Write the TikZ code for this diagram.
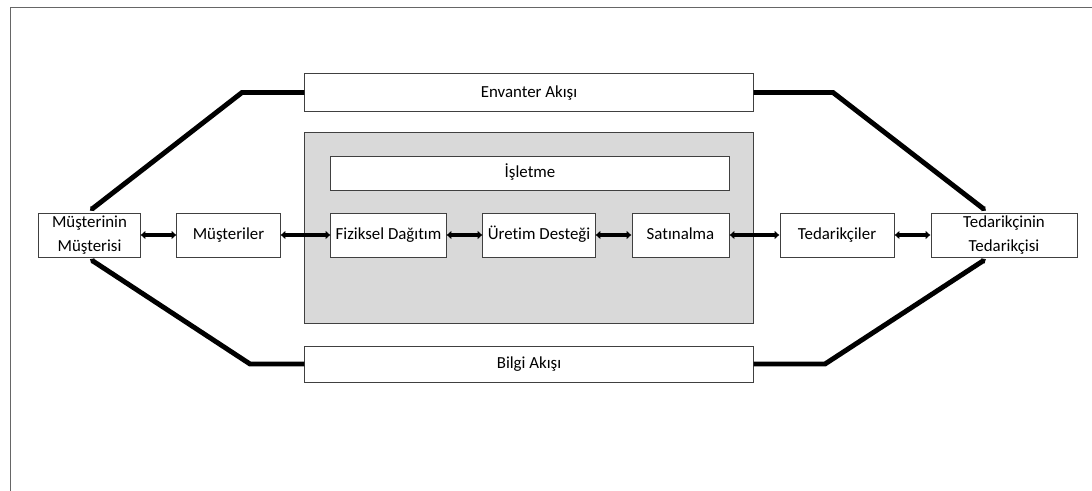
\documentclass[tikz,border=0pt]{standalone}
\usepackage{fontspec}
\setmainfont{Carlito}[Ligatures=NoCommon]
\usepackage{tikz}
\usetikzlibrary{arrows.meta}

\begin{document}
\begin{tikzpicture}[x=0.025cm, y=-0.025cm,
	box/.style={draw=black!75, line width=0.7pt, fill=white, inner sep=0pt, align=center,
		font=\fontsize{12}{17}\selectfont},
	onebox/.style={box, execute at begin node=\strut},
	link/.style={line width=3.5pt, {Latex[length=3.5pt,width=6.5pt]}-{Latex[length=3.5pt,width=6.5pt]}},
	flow/.style={line width=3.5pt, -{Latex[length=2.5pt,width=5pt]}, shorten >=2pt}]
	\useasboundingbox (0,0) rectangle (1092,491);
	% frame
	\draw [black!60, line width=1pt] (10.5,491) -- (10.5,7.5) -- (1092,7.5);
	% firm block
	\node [draw=black!75, line width=0.7pt, fill=black!15, minimum width=11.2cm, minimum height=4.75cm] (firm) at (529,228) {};
	\node [onebox, minimum width=9.95cm, minimum height=0.85cm] (isl) at (530,173) {İşletme};
	% flows
	\node [onebox, minimum width=11.2cm, minimum height=0.925cm] (env) at (529,92.5) {Envanter Akışı};
	\node [onebox, minimum width=11.2cm, minimum height=0.9cm] (bilgi) at (529,364) {Bilgi Akışı};
	% chain
	\node [box, minimum width=2.525cm, minimum height=1.1cm] (mm) at (89.5,235) {Müşterinin\\Müşterisi};
	\node [onebox, minimum width=2.575cm, minimum height=1.1cm] (mus) at (228.5,235) {Müşteriler};
	\node [onebox, minimum width=2.875cm, minimum height=1.1cm] (fd) at (388.5,235) {Fiziksel Dağıtım};
	\node [onebox, minimum width=2.8cm, minimum height=1.1cm] (ud) at (539,235) {Üretim Desteği};
	\node [onebox, minimum width=2.425cm, minimum height=1.1cm] (sat) at (680.5,235) {Satınalma};
	\node [onebox, minimum width=2.85cm, minimum height=1.1cm] (ted) at (837,235) {Tedarikçiler};
	\node [box, minimum width=3.65cm, minimum height=1.1cm] (tt) at (1004,235) {Tedarikçinin\\Tedarikçisi};
	\draw [link] (mm) -- (mus);
	\draw [link] (mus) -- (fd);
	\draw [link] (fd) -- (ud);
	\draw [link] (ud) -- (sat);
	\draw [link] (sat) -- (ted);
	\draw [link] (ted) -- (tt);
	% corners
	\coordinate (envl) at (242,92.5);
	\coordinate (envr) at (833,92.5);
	\coordinate (bilgil) at (250,364);
	\coordinate (bilgir) at (825,364);
	\draw [flow] (env.west) -- (envl) -- (mm.95);
	\draw [flow] (env.east) -- (envr) -- (tt.125);
	\draw [flow] (bilgi.west) -- (bilgil) -- (mm.265);
	\draw [flow] (bilgi.east) -- (bilgir) -- (tt.235);
\end{tikzpicture}
\end{document}
